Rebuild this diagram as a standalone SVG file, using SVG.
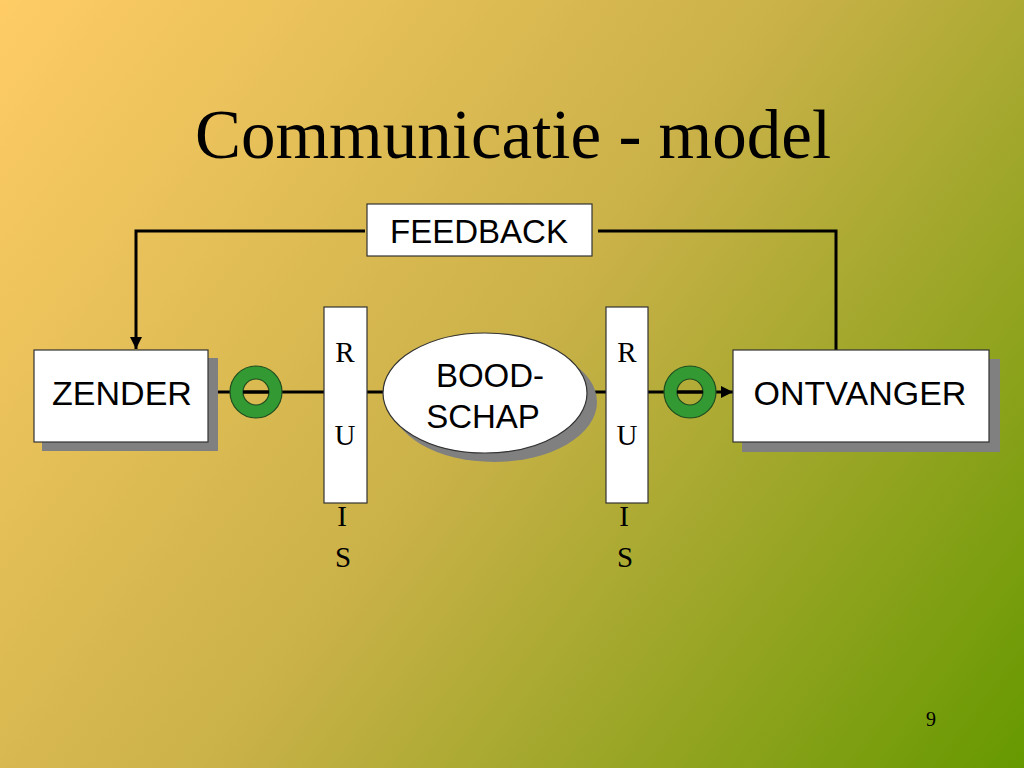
<svg xmlns="http://www.w3.org/2000/svg" width="1024" height="768" viewBox="0 0 1024 768">
<defs>
<linearGradient id="bg" gradientUnits="userSpaceOnUse" x1="0" y1="0" x2="1024" y2="768">
<stop offset="0" stop-color="#FFCC66"/>
<stop offset="0.5" stop-color="#C9B148"/>
<stop offset="1" stop-color="#669900"/>
</linearGradient>
<marker id="arr" viewBox="0 0 10 10" refX="10" refY="5" markerWidth="4" markerHeight="4" orient="auto" markerUnits="strokeWidth">
<path d="M0,0 L10,5 L0,10 z" fill="#000"/>
</marker>
<style>
.box{fill:#fff;stroke:#333;stroke-width:1.2}
.shadow{fill:#808080}
.ln{stroke:#000;stroke-width:3;fill:none}
.sans{font-family:"Liberation Sans",Arial,sans-serif;fill:#000}
.serif{font-family:"Liberation Serif","Times New Roman",serif;fill:#000}
.ring{fill:#339933;stroke:#1f4d1f;stroke-width:1.2;fill-rule:evenodd}
</style>
</defs>
<rect width="1024" height="768" fill="url(#bg)"/>
<text class="serif" x="513" y="158" font-size="69" text-anchor="middle">Communicatie - model</text>

<g id="connectors">
<polyline class="ln" points="836,350 836,231 598,231"/>
<polyline class="ln" points="365,231 136,231 136,349" marker-end="url(#arr)"/>
<line class="ln" x1="213" y1="392" x2="324" y2="392"/>
<line class="ln" x1="367" y1="392" x2="384" y2="392"/>
<line class="ln" x1="587" y1="392" x2="606" y2="392"/>
<line class="ln" x1="648" y1="392" x2="733" y2="392" marker-end="url(#arr)"/>
</g>

<g id="ring1"><path class="ring" d="M230,392 a26,26 0 1,0 52,0 a26,26 0 1,0 -52,0 z M243,392 a13,13 0 1,0 26,0 a13,13 0 1,0 -26,0 z"/><line class="ln" x1="243" y1="392" x2="269" y2="392"/></g>
<g id="ring2"><path class="ring" d="M664,392 a26,26 0 1,0 52,0 a26,26 0 1,0 -52,0 z M677,392 a13,13 0 1,0 26,0 a13,13 0 1,0 -26,0 z"/><line class="ln" x1="677" y1="392" x2="703" y2="392"/></g>

<g id="feedback">
<rect class="box" x="367" y="204" width="225" height="52"/>
<text class="sans" x="479" y="243" font-size="33" text-anchor="middle">FEEDBACK</text>
</g>

<g id="zender">
<rect class="shadow" x="42" y="358" width="176" height="93"/>
<rect class="box" x="34" y="350" width="174" height="92"/>
<text class="sans" x="122" y="405" font-size="34" text-anchor="middle">ZENDER</text>
</g>

<g id="ontvanger">
<rect class="shadow" x="742" y="359" width="258" height="93"/>
<rect class="box" x="733" y="350" width="256" height="92"/>
<text class="sans" x="860" y="405" font-size="34" text-anchor="middle">ONTVANGER</text>
</g>

<g id="boodschap">
<ellipse class="shadow" cx="494" cy="402" rx="103" ry="60"/>
<ellipse class="box" cx="485" cy="393" rx="102" ry="60"/>
<text class="sans" font-size="33" text-anchor="middle"><tspan x="490" y="387">BOOD-</tspan><tspan x="483" y="428">SCHAP</tspan></text>
</g>

<g id="ruis1">
<rect class="box" x="324" y="307" width="43" height="196"/>
<text class="serif" font-size="29" text-anchor="middle"><tspan x="345" y="362">R</tspan><tspan x="345" y="445">U</tspan><tspan x="342" y="526">I</tspan><tspan x="343" y="567">S</tspan></text>
</g>

<g id="ruis2">
<rect class="box" x="606" y="307" width="42" height="196"/>
<text class="serif" font-size="29" text-anchor="middle"><tspan x="627" y="362">R</tspan><tspan x="627" y="445">U</tspan><tspan x="624" y="526">I</tspan><tspan x="625" y="567">S</tspan></text>
</g>

<text class="serif" x="931" y="726" font-size="20" text-anchor="middle">9</text>
</svg>
